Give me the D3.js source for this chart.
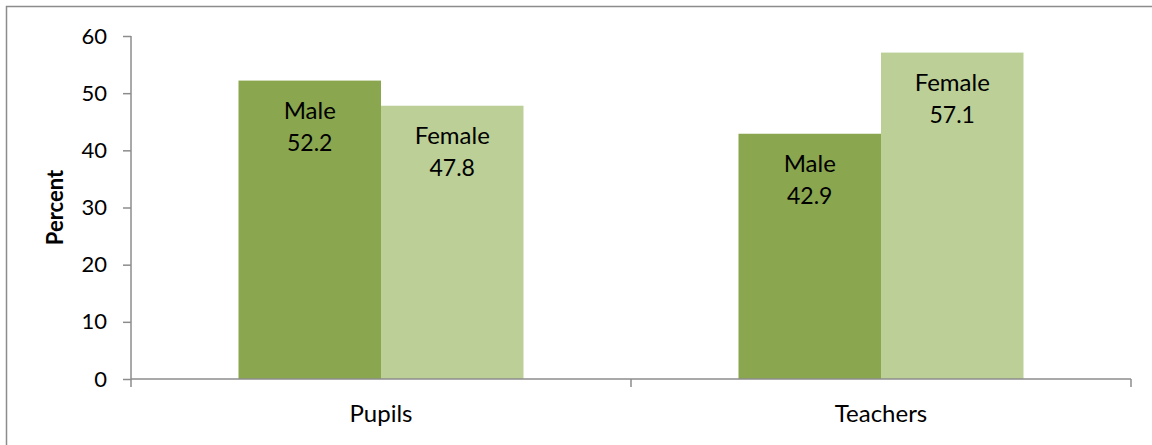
<!DOCTYPE html>
<html>
<head>
<meta charset="utf-8">
<script src="https://d3js.org/d3.v7.min.js"></script>
<style>
  body { margin: 0; background: #fff; }
  svg text { font-family: Lato, "Open Sans", sans-serif; fill: #000; }
</style>
</head>
<body>
<svg width="1152" height="445"></svg>
<script>
// chart data
var groups = ["Pupils", "Teachers"];
var sexes = ["Male", "Female"];
var values = {
  Pupils:   [52.2, 47.8],
  Teachers: [42.9, 57.1]
};
var yTicks = [0, 10, 20, 30, 40, 50, 60];
var colors = ["#8aa64f", "#bbcf97"];

var svg = d3.select("svg");

// outer border (only top and left are inside the picture)
svg.append("rect")
  .attr("x", 6.5).attr("y", 6.5)
  .attr("width", 1160).attr("height", 460)
  .attr("fill", "none")
  .attr("stroke", "#8c8c8c")
  .attr("stroke-width", 1.5);

var pLeft = 131, pRight = 1131, pTop = 36, pBottom = 379;

var x0 = d3.scaleBand().domain(groups).range([pLeft, pRight])
  .paddingInner(0.43).paddingOuter(0.215);
var x1 = d3.scaleBand().domain(sexes).range([0, x0.bandwidth()]);
var y = d3.scaleLinear().domain([0, 60]).range([pBottom, pTop]);

// bars
var g = svg.selectAll(".grp")
  .data(groups)
  .enter().append("g")
  .attr("class", "grp")
  .attr("transform", function(d) { return "translate(" + x0(d) + ",0)"; });

var bar = g.selectAll(".bar")
  .data(function(d) { return sexes.map(function(s, i) { return {sex: s, v: values[d][i], i: i}; }); })
  .enter();

bar.append("rect")
  .attr("x", function(d) { return x1(d.sex); })
  .attr("y", function(d) { return y(d.v); })
  .attr("width", x1.bandwidth())
  .attr("height", function(d) { return y(0) - y(d.v); })
  .attr("fill", function(d) { return colors[d.i]; });

// labels inside the bars
bar.append("text")
  .attr("x", function(d) { return x1(d.sex) + x1.bandwidth() / 2; })
  .attr("y", function(d) { return y(d.v) + 38; })
  .attr("text-anchor", "middle")
  .style("font-size", "24px")
  .text(function(d) { return d.sex; });

bar.append("text")
  .attr("x", function(d) { return x1(d.sex) + x1.bandwidth() / 2; })
  .attr("y", function(d) { return y(d.v) + 70; })
  .attr("text-anchor", "middle")
  .style("font-size", "23px")
  .text(function(d) { return d.v.toFixed(1); });

// y axis
var yAxis = svg.append("g")
  .attr("transform", "translate(" + pLeft + ",0)")
  .call(d3.axisLeft(y).tickValues(yTicks).tickSize(8).tickPadding(16));
yAxis.selectAll("path, line").attr("stroke", "#8c8c8c").attr("stroke-width", 1.5);
yAxis.selectAll("text").style("font-size", "22px").style("font-family", "Lato, sans-serif");
yAxis.select(".domain").attr("d", "M0," + pTop + "V" + pBottom);

// x axis: ticks at category boundaries
var xAxis = svg.append("g")
  .attr("transform", "translate(0," + pBottom + ")");
xAxis.append("line")
  .attr("x1", pLeft).attr("x2", pRight)
  .attr("stroke", "#8c8c8c").attr("stroke-width", 1.5);
var bounds = [pLeft, (x0(groups[0]) + x0.bandwidth() + x0(groups[1])) / 2, pRight];
xAxis.selectAll(".xt")
  .data(bounds)
  .enter().append("line")
  .attr("x1", function(d) { return d; }).attr("x2", function(d) { return d; })
  .attr("y1", 0).attr("y2", 8)
  .attr("stroke", "#8c8c8c").attr("stroke-width", 1.5);
xAxis.selectAll(".xl")
  .data(groups)
  .enter().append("text")
  .attr("x", function(d) { return x0(d) + x0.bandwidth() / 2; })
  .attr("y", 43)
  .attr("text-anchor", "middle")
  .style("font-size", "24px")
  .text(function(d) { return d; });

// y axis title
svg.append("text")
  .attr("transform", "translate(63," + ((pTop + pBottom) / 2) + ") rotate(-90)")
  .attr("text-anchor", "middle")
  .style("font-size", "22px")
  .style("font-weight", "bold")
  .text("Percent");
</script>
</body>
</html>
